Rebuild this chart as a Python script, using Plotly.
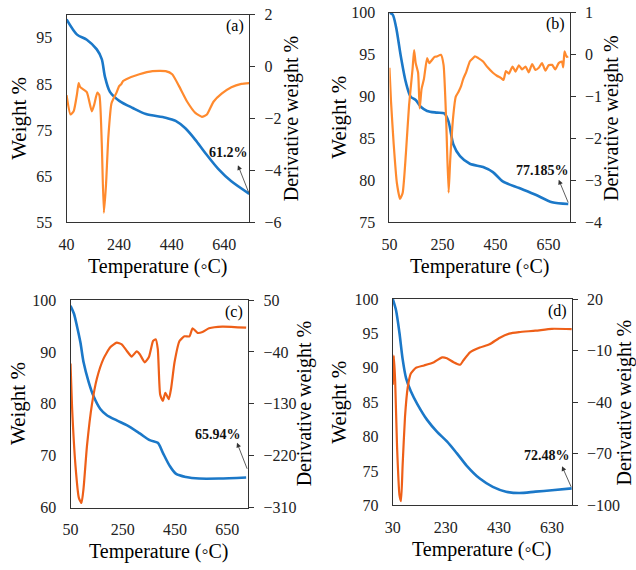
import plotly.graph_objects as go

# ---------------- data ----------------
# Panel (a)
a_temp_w = [40, 80, 117, 155, 174, 186, 205, 242, 292, 342, 417, 455, 492, 530, 567, 617, 667, 735]
a_weight = [99.0, 95.7, 94.6, 92.5, 90.4, 86.6, 83.3, 81.3, 79.8, 78.5, 77.7, 77.0, 75.4, 72.9, 70.1, 66.6, 63.9, 61.2]
a_temp_d = [40, 55, 67, 80, 86, 92, 117, 136, 145, 157, 165, 174, 182, 190, 199, 211, 230, 240, 249, 255, 267, 317, 367, 417, 442, 467, 499, 530, 555, 574, 599, 630, 667, 705, 735]
a_deriv = [-1.1, -1.84, -1.72, -1.04, -0.63, -0.79, -0.98, -1.72, -1.47, -1.0, -1.1, -2.96, -5.63, -4.57, -2.71, -1.41, -1.0, -0.75, -0.66, -0.55, -0.48, -0.29, -0.17, -0.17, -0.29, -0.73, -1.35, -1.78, -1.93, -1.84, -1.35, -1.04, -0.79, -0.66, -0.63]

# Panel (b)
b_temp_w = [50, 62, 75, 93, 112, 130, 149, 168, 192, 229, 257, 273, 291, 316, 353, 403, 440, 477, 539, 601, 663, 724]
b_weight = [100.0, 99.8, 98.3, 94.8, 91.7, 90.0, 89.6, 88.8, 88.3, 88.1, 88.0, 87.0, 84.3, 82.9, 82.0, 81.6, 81.0, 79.9, 79.1, 78.3, 77.4, 77.2]
b_temp_d = [50, 56, 66, 78, 90, 100, 112, 124, 137, 143, 149, 158, 164, 171, 180, 192, 200, 211, 220, 229, 244, 254, 264, 273, 279, 291, 300, 310, 320, 328, 340, 353, 362, 372, 385, 403, 420, 440, 455, 470, 480, 489, 500, 514, 525, 538, 550, 563, 575, 588, 600, 613, 625, 638, 650, 663, 675, 688, 700, 705, 710, 718, 724]
b_deriv = [-0.31, -1.12, -2.13, -3.06, -3.44, -3.29, -2.36, -1.2, -0.35, 0.11, -0.2, -0.43, -1.28, -0.82, -0.58, -0.08, -0.2, -0.12, -0.05, -0.04, 0.0, -0.24, -1.59, -3.29, -2.52, -1.43, -1.0, -0.89, -0.75, -0.58, -0.4, -0.16, -0.1, -0.04, -0.08, -0.16, -0.3, -0.43, -0.5, -0.55, -0.6, -0.39, -0.45, -0.28, -0.4, -0.25, -0.35, -0.28, -0.42, -0.22, -0.36, -0.31, -0.2, -0.38, -0.25, -0.24, -0.35, -0.2, -0.16, -0.3, 0.08, -0.05, -0.04]

# Panel (c)
c_temp_w = [50, 63, 75, 88, 100, 119, 138, 164, 189, 227, 265, 315, 353, 384, 403, 429, 454, 492, 542, 618, 722]
c_weight = [98.9, 97.4, 94.9, 91.8, 88.0, 84.3, 81.5, 79.0, 77.8, 76.8, 75.9, 74.3, 73.0, 72.5, 70.6, 68.1, 66.5, 65.9, 65.6, 65.6, 65.8]
c_temp_d = [50, 56, 69, 82, 92, 100, 113, 132, 151, 176, 202, 227, 246, 265, 284, 303, 315, 334, 350, 366, 376, 384, 393, 403, 413, 426, 435, 448, 467, 486, 505, 517, 536, 555, 580, 631, 722]
c_deriv = [-60, -136, -237, -293, -302, -276, -203, -131, -86, -52, -32, -24, -27, -38, -48, -39, -44, -58, -49, -21, -18, -35, -114, -125, -111, -122, -103, -58, -21, -13, -13, 1, -7, -5.5, 1, 4, 2]

# Panel (d)
d_temp_w = [30, 42, 55, 67, 80, 98, 123, 160, 197, 234, 271, 308, 358, 407, 457, 506, 568, 630, 705]
d_weight = [100.0, 98.4, 95.1, 91.3, 88.5, 86.6, 84.7, 82.4, 80.7, 79.3, 77.6, 75.8, 73.9, 72.7, 72.0, 71.8, 72.0, 72.2, 72.48]
d_temp_d = [30, 34, 39, 46, 55, 61, 67, 76, 86, 98, 117, 148, 185, 216, 234, 259, 284, 296, 321, 358, 395, 432, 469, 506, 568, 630, 705]
d_deriv = [-29.8, -12.9, -28, -65.6, -93.8, -97.5, -76.9, -48.6, -31.7, -23.3, -20, -18.6, -16.7, -13.9, -14.4, -16.7, -18.2, -15.7, -11, -8.2, -6.3, -2.6, -0.1, 0.8, 1.6, 2.7, 2.5]

residue_labels = ["61.2%", "77.185%", "65.94%", "72.48%"]
panel_labels = ["(a)", "(b)", "(c)", "(d)"]

x_ticks = [[40, 240, 440, 640], [50, 250, 450, 650], [50, 250, 450, 650], [30, 230, 430, 630]]
x_ranges = [[40, 735], [50, 730], [50, 730], [30, 705]]
yl_ranges = [[55, 100], [75, 100], [60, 100], [70, 100]]
yl_ticks = [[55, 65, 75, 85, 95], [75, 80, 85, 90, 95, 100], [60, 70, 80, 90, 100], [70, 75, 80, 85, 90, 95, 100]]
yr_ranges = [[-6, 2], [-4, 1], [-310, 50], [-100, 20]]
yr_ticks = [[-6, -4, -2, 0, 2], [-4, -3, -2, -1, 0, 1], [-310, -220, -130, -40, 50], [-100, -70, -40, -10, 20]]

# ---------------- layout ----------------
W, H = 636, 570
BLUE = "#1B78C8"
ORANGES = ["#FF8A2E", "#FF8A2E", "#EE5F18", "#EE5F18"]
FONT = "Liberation Serif, Times New Roman, DejaVu Serif, serif"

# pixel boxes: left, right, top, bottom
boxes = [(59.3, 244.3, 7, 221), (386.3, 569, 5, 221), (63.3, 243.3, 301, 515), (389.7, 571, 300, 512.7)]
left_title_off = [49, 51, 53, 54]
right_title_off = [43, 42, 57, 53]

weights = [(a_temp_w, a_weight), (b_temp_w, b_weight), (c_temp_w, c_weight), (d_temp_w, d_weight)]
derivs = [(a_temp_d, a_deriv), (b_temp_d, b_deriv), (c_temp_d, c_deriv), (d_temp_d, d_deriv)]

fig = go.Figure()
layout = dict(width=W, height=H, margin=dict(l=0, r=0, t=0, b=0),
              paper_bgcolor="white", plot_bgcolor="white", showlegend=False,
              font=dict(family=FONT, color="black"))
annotations = []

def px_x(p):
    return p / W

def px_y(p):
    return 1 - p / H

for i in range(4):
    l, r, t, b = boxes[i]
    xn = "x" if i == 0 else f"x{i+1}"
    yl = 2 * i + 1
    yr = 2 * i + 2
    yln = "y" if yl == 1 else f"y{yl}"
    yrn = f"y{yr}"
    xkey = "xaxis" if i == 0 else f"xaxis{i+1}"
    ylkey = "yaxis" if yl == 1 else f"yaxis{yl}"
    yrkey = f"yaxis{yr}"

    tw, wv = weights[i]
    td, dv = derivs[i]
    fig.add_trace(go.Scatter(x=td, y=dv, xaxis=xn, yaxis=yrn, mode="lines",
                             line=dict(color=ORANGES[i], width=2.2, shape="spline", smoothing=0.5)))
    fig.add_trace(go.Scatter(x=tw, y=wv, xaxis=xn, yaxis=yln, mode="lines",
                             line=dict(color=BLUE, width=2.6, shape="spline", smoothing=0.8)))

    tickfont = dict(family=FONT, size=16, color="#222222")
    layout[xkey] = dict(domain=[px_x(l), px_x(r)], range=x_ranges[i], anchor=yln,
                        tickmode="array", tickvals=x_ticks[i], showgrid=False, zeroline=False,
                        showline=True, linecolor="#333333", linewidth=1, mirror=True,
                        ticks="", ticklabelstandoff=7, tickfont=tickfont)
    layout[ylkey] = dict(domain=[px_y(b), px_y(t)], range=yl_ranges[i], anchor=xn,
                         tickmode="array", tickvals=yl_ticks[i], showgrid=False, zeroline=False,
                         showline=True, linecolor="#333333", linewidth=1,
                         ticks="", ticklabelstandoff=10, tickfont=tickfont)
    layout[yrkey] = dict(domain=[px_y(b), px_y(t)], range=yr_ranges[i], anchor=xn,
                         overlaying=yln, side="right",
                         tickmode="array", tickvals=yr_ticks[i], showgrid=False, zeroline=False,
                         showline=True, linecolor="#333333", linewidth=1,
                         ticks="outside", ticklen=5, tickcolor="#333333", ticklabelstandoff=6,
                         tickfont=tickfont)

    annotations.append(dict(text="Weight %", xref="paper", yref="paper",
                            x=px_x(l - left_title_off[i]), y=px_y((t + b) / 2), textangle=-90, showarrow=False,
                            font=dict(family=FONT, size=21, color="black"), xanchor="center", yanchor="middle"))
    annotations.append(dict(text="Derivative weight %", xref="paper", yref="paper",
                            x=px_x(r + right_title_off[i]), y=px_y((t + b) / 2), textangle=-90, showarrow=False,
                            font=dict(family=FONT, size=20, color="black"), xanchor="center", yanchor="middle"))
    annotations.append(dict(text="Temperature (◦C)", xref="paper", yref="paper",
                            x=px_x((l + r) / 2), y=px_y(b + 45), showarrow=False,
                            font=dict(family=FONT, size=20, color="black"), xanchor="center", yanchor="middle"))
    annotations.append(dict(text=panel_labels[i], xref="paper", yref="paper",
                            x=px_x(r - 3), y=px_y(t + 12), showarrow=False,
                            font=dict(family=FONT, size=16, color="black"), xanchor="right", yanchor="middle"))

# residue arrows (head near text, tail at curve end) and texts
arrow_specs = [
    # (head_T, head_W, tail_T, tail_W, text_px_x, text_px_y)
    (692, 67.4, 735, 61.2, 223, 149),
    (688, 80.1, 726, 77.2, 541, 167),
    (687, 72.5, 728, 67.2, 213, 440),
    (668, 75.7, 705, 72.48, 546, 461),
]
for i, (hx, hy, tx, ty, px, py) in enumerate(arrow_specs):
    xn = "x" if i == 0 else f"x{i+1}"
    yln = "y" if i == 0 else f"y{2*i+1}"
    annotations.append(dict(x=hx, y=hy, xref=xn, yref=yln, ax=tx, ay=ty, axref=xn, ayref=yln,
                            showarrow=True, arrowhead=2, arrowsize=1.2, arrowwidth=0.8,
                            arrowcolor="#333333", text=""))
    annotations.append(dict(text="<b>" + residue_labels[i] + "</b>", xref="paper", yref="paper",
                            x=px_x(px), y=px_y(py), showarrow=False,
                            font=dict(family=FONT, size=14, color="#111111"),
                            xanchor="center", yanchor="middle"))

layout["annotations"] = annotations
fig.update_layout(**layout)
fig.write_html("out.html", config={"displayModeBar": False},
               post_script="document.body.style.margin='0';document.body.style.overflow='hidden';")
